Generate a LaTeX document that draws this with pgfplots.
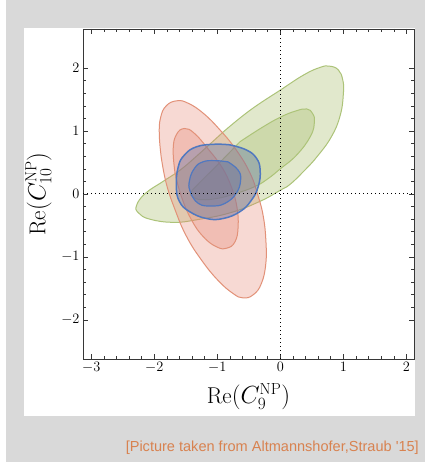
\documentclass[border=0pt]{standalone}
\usepackage{fontspec}
\usepackage{pgfplots}
\pgfplotsset{compat=1.18}
\newfontfamily\capfont{Liberation Sans}

\definecolor{bggray}{RGB}{217,217,217}
\definecolor{capcol}{RGB}{216,130,80}
\definecolor{gfill}{RGB}{170,190,110}
\definecolor{gline}{RGB}{172,195,120}
\definecolor{rfill}{RGB}{230,130,110}
\definecolor{rline}{RGB}{226,145,120}
\definecolor{bfill}{RGB}{80,105,165}
\definecolor{bline}{RGB}{80,120,192}
\definecolor{frame}{RGB}{55,55,55}

\begin{document}
\begin{tikzpicture}[x=1bp,y=1bp]
% slide background
\fill[white] (0,0) rectangle (425,462);
\fill[bggray] (6,0) rectangle (425,462);
\fill[white] (24,46) rectangle (415,434);

\begin{axis}[
  at={(83bp,103bp)}, anchor=south west,
  scale only axis,
  width=331bp, height=330bp,
  xmin=-3.13, xmax=2.12,
  ymin=-2.62, ymax=2.62,
  xtick={-3,-2,-1,0,1,2},
  ytick={-2,-1,0,1,2},
  minor x tick num=4,
  minor y tick num=4,
  tick align=inside,
  major tick length=5bp,
  minor tick length=3bp,
  axis line style={draw=frame, line width=0.9bp},
  tick style={draw=frame, line width=0.6bp},
  tick label style={font=\fontsize{15}{15}\selectfont},
  xlabel={$\mathrm{Re}(C_9^{\mathrm{NP}})$},
  ylabel={$\mathrm{Re}(C_{10}^{\mathrm{NP}})$},
  label style={font=\fontsize{23}{23}\selectfont},
  xlabel style={yshift=-4bp},
  ylabel style={yshift=3bp},
  every axis plot/.append style={smooth, tension=0.75},
]

% green (outer, inner)
\addplot[draw=gline, line width=1bp, fill=gfill, fill opacity=0.35] coordinates {
  (-0.90,0.99) (-0.48,1.33) (0,1.65) (0.37,1.89) (0.63,2.01) (0.78,2.03)
  (0.92,1.97) (0.99,1.81) (1.00,1.60) (0.95,1.25) (0.81,0.91) (0.58,0.59)
  (0.36,0.35) (0.15,0.15) (0,0.06) (-0.33,-0.12) (-0.80,-0.30) (-1.33,-0.41)
  (-1.70,-0.45) (-2.07,-0.40) (-2.25,-0.30) (-2.28,-0.18) (-2.14,0.01)
  (-1.86,0.20) (-1.59,0.38) (-1.33,0.60) (-0.90,0.99)
} -- cycle;
\addplot[draw=gline, line width=1bp, fill=gfill, fill opacity=0.35] coordinates {
  (-0.64,0.83) (-0.30,1.05) (0,1.22) (0.25,1.32) (0.42,1.35) (0.51,1.28)
  (0.54,1.15) (0.48,0.92) (0.26,0.62) (0,0.40) (-0.20,0.24) (-0.40,0.12)
  (-0.70,0.01) (-1.00,-0.07) (-1.25,-0.09) (-1.38,-0.05) (-1.42,0.02)
  (-1.30,0.16) (-1.00,0.46) (-0.64,0.83)
} -- cycle;

% red (outer, inner)
\addplot[draw=rline, line width=1bp, fill=rfill, fill opacity=0.3] coordinates {
  (-1.89,0.59) (-1.81,0.17) (-1.67,-0.25) (-1.49,-0.67) (-1.25,-1.05)
  (-0.99,-1.37) (-0.75,-1.58) (-0.59,-1.65) (-0.43,-1.60) (-0.30,-1.42)
  (-0.23,-1.10) (-0.23,-0.73) (-0.27,-0.36) (-0.35,-0.04) (-0.48,0.33)
  (-0.70,0.70) (-0.96,1.02) (-1.22,1.28) (-1.46,1.44) (-1.64,1.48)
  (-1.81,1.40) (-1.90,1.21) (-1.92,0.94) (-1.89,0.59)
} -- cycle;
\addplot[draw=rline, line width=1bp, fill=rfill, fill opacity=0.3] coordinates {
  (-1.67,0.33) (-1.57,-0.04) (-1.41,-0.41) (-1.22,-0.68) (-1.01,-0.84)
  (-0.85,-0.86) (-0.72,-0.76) (-0.67,-0.52) (-0.69,-0.20) (-0.78,0.12)
  (-0.93,0.43) (-1.15,0.72) (-1.36,0.96) (-1.52,1.04) (-1.65,0.94)
  (-1.70,0.70) (-1.67,0.33)
} -- cycle;

% blue (outer, inner)
\addplot[draw=bline, line width=1.5bp, fill=bfill, fill opacity=0.35] coordinates {
  (-0.80,0.78) (-0.54,0.70) (-0.38,0.57) (-0.32,0.38) (-0.35,0.12)
  (-0.46,-0.10) (-0.64,-0.28) (-0.91,-0.39) (-1.17,-0.39) (-1.44,-0.28)
  (-1.60,-0.12) (-1.65,0.12) (-1.62,0.43) (-1.52,0.62) (-1.33,0.75)
  (-1.04,0.79) (-0.80,0.78)
} -- cycle;
\addplot[draw=bline, line width=1.2bp, fill=bfill, fill opacity=0.35] coordinates {
  (-0.83,0.51) (-0.67,0.38) (-0.63,0.22) (-0.70,0.01) (-0.88,-0.15)
  (-1.09,-0.19) (-1.30,-0.15) (-1.43,0.04) (-1.44,0.22) (-1.36,0.41)
  (-1.23,0.51) (-1.04,0.53) (-0.83,0.51)
} -- cycle;

% zero lines
\addplot[black, line width=1bp, dash pattern=on 0.9bp off 3.1bp, sharp plot] coordinates {(0,-2.62) (0,2.62)};
\addplot[black, line width=1bp, dash pattern=on 0.9bp off 3.1bp, sharp plot] coordinates {(-3.13,0) (2.12,0)};
\end{axis}

\node[anchor=base east, text=capcol, font=\capfont\fontsize{14.6}{14.6}\selectfont, inner sep=0pt]
  at (419,10) {[Picture taken from Altmannshofer,Straub '15]};
\end{tikzpicture}
\end{document}
